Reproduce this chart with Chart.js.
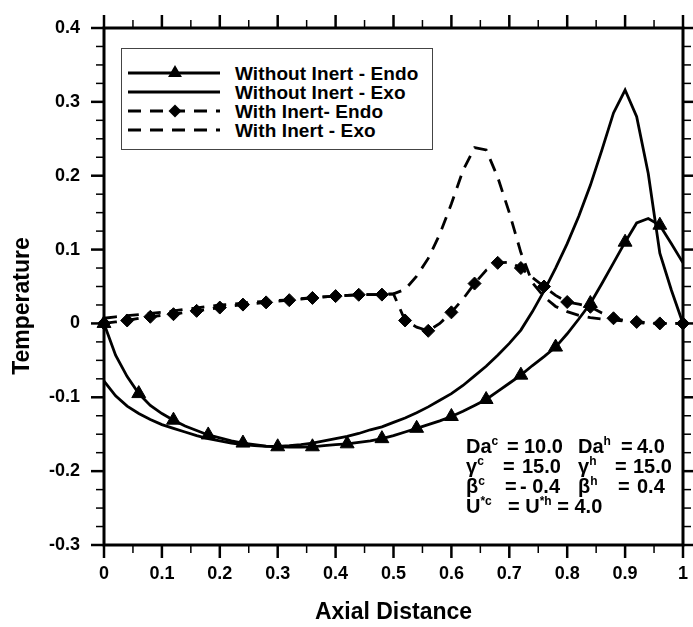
<!DOCTYPE html>
<html>
<head>
<meta charset="utf-8">
<script src="https://cdn.jsdelivr.net/npm/chart.js@4.4.0/dist/chart.umd.min.js"></script>
<style>
    body { margin: 0; background: #fff; }
    #wrap { position: relative; width: 693px; height: 627px; font-family: 'Liberation Sans', Arial, sans-serif; color: #000; }
    #legend { position: absolute; left: 121px; top: 48px; width: 310px; height: 100px; border: 1px solid #444; background: #fff; }
    #legend svg { position: absolute; left: 0; top: 0; }
    .leg-row { position: absolute; left: 113px; font-weight: bold; font-size: 19px; line-height: 19px; letter-spacing: 0.1px; white-space: nowrap; }
    .p { position: absolute; font-weight: bold; font-size: 20px; line-height: 20px; white-space: nowrap; }
    .p sup { font-size: 12px; position: relative; top: -8px; vertical-align: baseline; line-height: 0; }
</style>
</head>
<body>
<div id="wrap">
    <canvas id="tempChart" width="693" height="627"></canvas>
    <div id="legend"></div>
    <div id="params">
        <div class="p" style="left:466px;top:436px">Da<sup>c</sup></div>
        <div class="p" style="left:507px;top:436px">=</div>
        <div class="p" style="left:524px;top:436px">10.0</div>
        <div class="p" style="left:578px;top:436px">Da<sup>h</sup></div>
        <div class="p" style="left:621px;top:436px">=</div>
        <div class="p" style="left:637px;top:436px">4.0</div>

        <div class="p" style="left:466px;top:456px">γ<sup>c</sup></div>
        <div class="p" style="left:503px;top:456px">=</div>
        <div class="p" style="left:522px;top:456px">15.0</div>
        <div class="p" style="left:578px;top:456px">γ<sup>h</sup></div>
        <div class="p" style="left:615px;top:456px">=</div>
        <div class="p" style="left:633px;top:456px">15.0</div>

        <div class="p" style="left:466px;top:476px">β<sup>c</sup></div>
        <div class="p" style="left:505px;top:476px">=</div>
        <div class="p" style="left:520px;top:476px">- 0.4</div>
        <div class="p" style="left:578px;top:476px">β<sup>h</sup></div>
        <div class="p" style="left:618px;top:476px">=</div>
        <div class="p" style="left:637px;top:476px">0.4</div>

        <div class="p" style="left:466px;top:496px">U<sup>*c</sup></div>
        <div class="p" style="left:508px;top:496px">= U<sup>*h</sup> = 4.0</div>
    </div>
</div>
<script>
// axial positions shared by all four curves
const axialPos = [
    0, 0.02, 0.04, 0.06, 0.08, 0.10, 0.12, 0.14, 0.16, 0.18,
    0.20, 0.22, 0.24, 0.26, 0.28, 0.30, 0.32, 0.34, 0.36, 0.38,
    0.40, 0.42, 0.44, 0.46, 0.48, 0.50, 0.52, 0.54, 0.56, 0.58,
    0.60, 0.62, 0.64, 0.66, 0.68, 0.70, 0.72, 0.74, 0.76, 0.78,
    0.80, 0.82, 0.84, 0.86, 0.88, 0.90, 0.92, 0.94, 0.96, 0.98, 1.00
];

// Without inert
const endoWithout = [
    0, -0.043, -0.072, -0.095, -0.111, -0.122, -0.131, -0.139, -0.145, -0.151,
    -0.155, -0.159, -0.162, -0.164, -0.166, -0.167, -0.1675, -0.1675, -0.167, -0.1655,
    -0.164, -0.163, -0.161, -0.159, -0.156, -0.152, -0.147, -0.142, -0.137, -0.132,
    -0.126, -0.119, -0.111, -0.103, -0.092, -0.081, -0.070, -0.057, -0.045, -0.032,
    -0.014, 0.006, 0.027, 0.054, 0.082, 0.110, 0.136, 0.142, 0.133, 0.108, 0.082
];
const exoWithout = [
    -0.078, -0.098, -0.112, -0.122, -0.130, -0.137, -0.142, -0.147, -0.152, -0.156,
    -0.159, -0.162, -0.164, -0.1655, -0.1665, -0.1665, -0.1655, -0.164, -0.162, -0.159,
    -0.156, -0.153, -0.149, -0.144, -0.140, -0.134, -0.128, -0.121, -0.113, -0.104,
    -0.095, -0.084, -0.071, -0.058, -0.043, -0.027, -0.009, 0.016, 0.044, 0.075,
    0.108, 0.145, 0.187, 0.235, 0.285, 0.316, 0.280, 0.203, 0.095, 0.045, 0
];

// With inert
const endoWith = [
    0, 0.002, 0.004, 0.007, 0.009, 0.011, 0.0125, 0.015, 0.017, 0.019,
    0.0215, 0.0235, 0.0255, 0.027, 0.0285, 0.030, 0.0315, 0.033, 0.0345, 0.036,
    0.037, 0.038, 0.0388, 0.039, 0.039, 0.040, 0.004, -0.005, -0.010, 0.000,
    0.015, 0.033, 0.054, 0.072, 0.082, 0.083, 0.075, 0.062, 0.050, 0.038,
    0.029, 0.026, 0.0225, 0.014, 0.007, 0.004, 0.002, 0.001, 0, 0, 0
];
const exoWith = [
    0.007, 0.009, 0.0105, 0.012, 0.0135, 0.015, 0.017, 0.019, 0.021, 0.023,
    0.025, 0.026, 0.0275, 0.029, 0.030, 0.031, 0.032, 0.0335, 0.035, 0.036,
    0.037, 0.038, 0.0388, 0.039, 0.039, 0.040, 0.046, 0.064, 0.088, 0.121,
    0.162, 0.207, 0.238, 0.235, 0.198, 0.150, 0.096, 0.055, 0.036, 0.023,
    0.016, 0.011, 0.008, 0.006, 0.0045, 0.003, 0.001, 0, 0, 0, 0
];

const xTickStep = 0.1, xMinorStep = 0.05;
const yTickStep = 0.1, yMinorStep = 0.025;
const triangleEvery = 3;   // marker every 0.06
const diamondEvery = 2;    // marker every 0.04
const dashPattern = [13, 9];
const lineW = 2.8;

function pairs(ys) {
    return axialPos.map((x, i) => ({ x: x, y: ys[i] }));
}

function tickText(v) {
    if (Math.abs(v) < 1e-9) return '0';
    if (Math.abs(v - 1) < 1e-9) return '1';
    return v.toFixed(1);
}

const fontFamily = "'Liberation Sans', Arial, sans-serif";
const tickFont = { family: fontFamily, size: 18, weight: 'bold' };
const titleFont = { family: fontFamily, size: 23, weight: 'bold' };

// draws the box, outward major/minor ticks on all four sides, and the y title
const frameTicks = {
    id: 'frameTicks',
    beforeDatasetsDraw(chart) {
        const { ctx, chartArea: a, scales } = chart;
        const xs = scales.x, ys = scales.y;
        const majorLen = 13, minorLen = 8;
        ctx.save();
        ctx.strokeStyle = '#000';
        ctx.lineCap = 'butt';

        function tick(px, py, dx, dy, len, w) {
            ctx.lineWidth = w;
            ctx.beginPath();
            ctx.moveTo(px, py);
            ctx.lineTo(px + dx * len, py + dy * len);
            ctx.stroke();
        }

        const nx = Math.round((xs.max - xs.min) / xMinorStep);
        for (let i = 0; i <= nx; i++) {
            const v = xs.min + i * xMinorStep;
            const px = xs.getPixelForValue(v);
            const major = i % Math.round(xTickStep / xMinorStep) === 0;
            const len = major ? majorLen : minorLen;
            const w = major ? 2.5 : 1.5;
            tick(px, a.bottom, 0, 1, len, w);
            tick(px, a.top, 0, -1, len, w);
        }
        const ny = Math.round((ys.max - ys.min) / yMinorStep);
        for (let i = 0; i <= ny; i++) {
            const v = ys.min + i * yMinorStep;
            const py = ys.getPixelForValue(v);
            const major = i % Math.round(yTickStep / yMinorStep) === 0;
            const len = major ? majorLen : minorLen;
            const w = major ? 2.5 : 1.5;
            tick(a.left, py, -1, 0, len, w);
            tick(a.right, py, 1, 0, len, w);
        }

        ctx.lineWidth = 3;
        ctx.strokeRect(a.left, a.top, a.right - a.left, a.bottom - a.top);

        // y axis title sits a little below the centre of the axis in the original
        ctx.translate(23, 306);
        ctx.rotate(-Math.PI / 2);
        ctx.fillStyle = '#000';
        ctx.font = 'bold ' + titleFont.size + 'px ' + fontFamily;
        ctx.textAlign = 'center';
        ctx.textBaseline = 'middle';
        ctx.fillText('Temperature', 0, 0);
        ctx.restore();
    }
};

const seriesStyle = [
    { label: 'Without Inert - Endo', data: endoWithout, dash: [], marker: 'triangle', every: triangleEvery, radius: 8 },
    { label: 'Without Inert - Exo', data: exoWithout, dash: [], marker: null },
    { label: 'With Inert- Endo', data: endoWith, dash: dashPattern, marker: 'rectRot', every: diamondEvery, radius: 6.5 },
    { label: 'With Inert - Exo', data: exoWith, dash: dashPattern, marker: null }
];

const datasets = seriesStyle.map(s => ({
    label: s.label,
    data: pairs(s.data),
    borderColor: '#000',
    backgroundColor: '#000',
    borderWidth: lineW,
    borderDash: s.dash,
    tension: 0,
    clip: false,
    pointStyle: s.marker || 'circle',
    pointRadius: ctx => (s.marker && ctx.dataIndex % s.every === 0) ? s.radius : 0,
    pointBackgroundColor: '#000',
    pointBorderColor: '#000',
    pointBorderWidth: 1
}));

new Chart(document.getElementById('tempChart'), {
    type: 'line',
    data: { datasets: datasets },
    plugins: [frameTicks],
    options: {
        responsive: false,
        animation: false,
        events: [],
        layout: { padding: { top: 28, right: 4, left: 0, bottom: 0 } },
        plugins: {
            legend: { display: false },
            tooltip: { enabled: false }
        },
        scales: {
            x: {
                type: 'linear',
                min: 0,
                max: 1,
                afterFit: s => { s.height = 82; },
                grid: { display: false, drawTicks: true, tickLength: 13 },
                border: { display: false },
                ticks: {
                    stepSize: xTickStep,
                    color: '#000',
                    font: tickFont,
                    padding: 5,
                    maxRotation: 0,
                    callback: v => tickText(v)
                },
                title: {
                    display: true,
                    text: 'Axial Distance',
                    color: '#000',
                    font: titleFont,
                    padding: { top: 0, bottom: 1 }
                }
            },
            y: {
                type: 'linear',
                min: -0.3,
                max: 0.4,
                afterFit: s => { s.width = 104; },
                grid: { display: false, drawTicks: true, tickLength: 13 },
                border: { display: false },
                ticks: {
                    stepSize: yTickStep,
                    color: '#000',
                    font: tickFont,
                    padding: 11,
                    callback: v => tickText(v)
                },
                title: { display: false }
            }
        }
    }
});

// legend box, built from the same series list
(function buildLegend() {
    const box = document.getElementById('legend');
    const rowY = [24, 43, 62, 81];
    const x0 = 6, x1 = 98, xm = 53;
    let svg = '<svg width="310" height="100" xmlns="http://www.w3.org/2000/svg">';
    seriesStyle.forEach((s, i) => {
        const y = rowY[i];
        const dash = s.dash.length ? ' stroke-dasharray="' + s.dash.join(' ') + '"' : '';
        svg += '<line x1="' + x0 + '" y1="' + y + '" x2="' + x1 + '" y2="' + y + '" stroke="#000" stroke-width="' + lineW + '"' + dash + '/>';
        if (s.marker === 'triangle') {
            const r = s.radius;
            svg += '<polygon points="' + xm + ',' + (y - r) + ' ' + (xm + r * 0.866) + ',' + (y + r / 2) + ' ' + (xm - r * 0.866) + ',' + (y + r / 2) + '" fill="#000"/>';
        } else if (s.marker === 'rectRot') {
            const r = s.radius;
            svg += '<polygon points="' + xm + ',' + (y - r) + ' ' + (xm + r) + ',' + y + ' ' + xm + ',' + (y + r) + ' ' + (xm - r) + ',' + y + '" fill="#000"/>';
        }
        const row = document.createElement('div');
        row.className = 'leg-row';
        row.style.top = (y - 9) + 'px';
        row.textContent = s.label;
        box.appendChild(row);
    });
    svg += '</svg>';
    box.insertAdjacentHTML('afterbegin', svg);
})();
</script>
</body>
</html>
